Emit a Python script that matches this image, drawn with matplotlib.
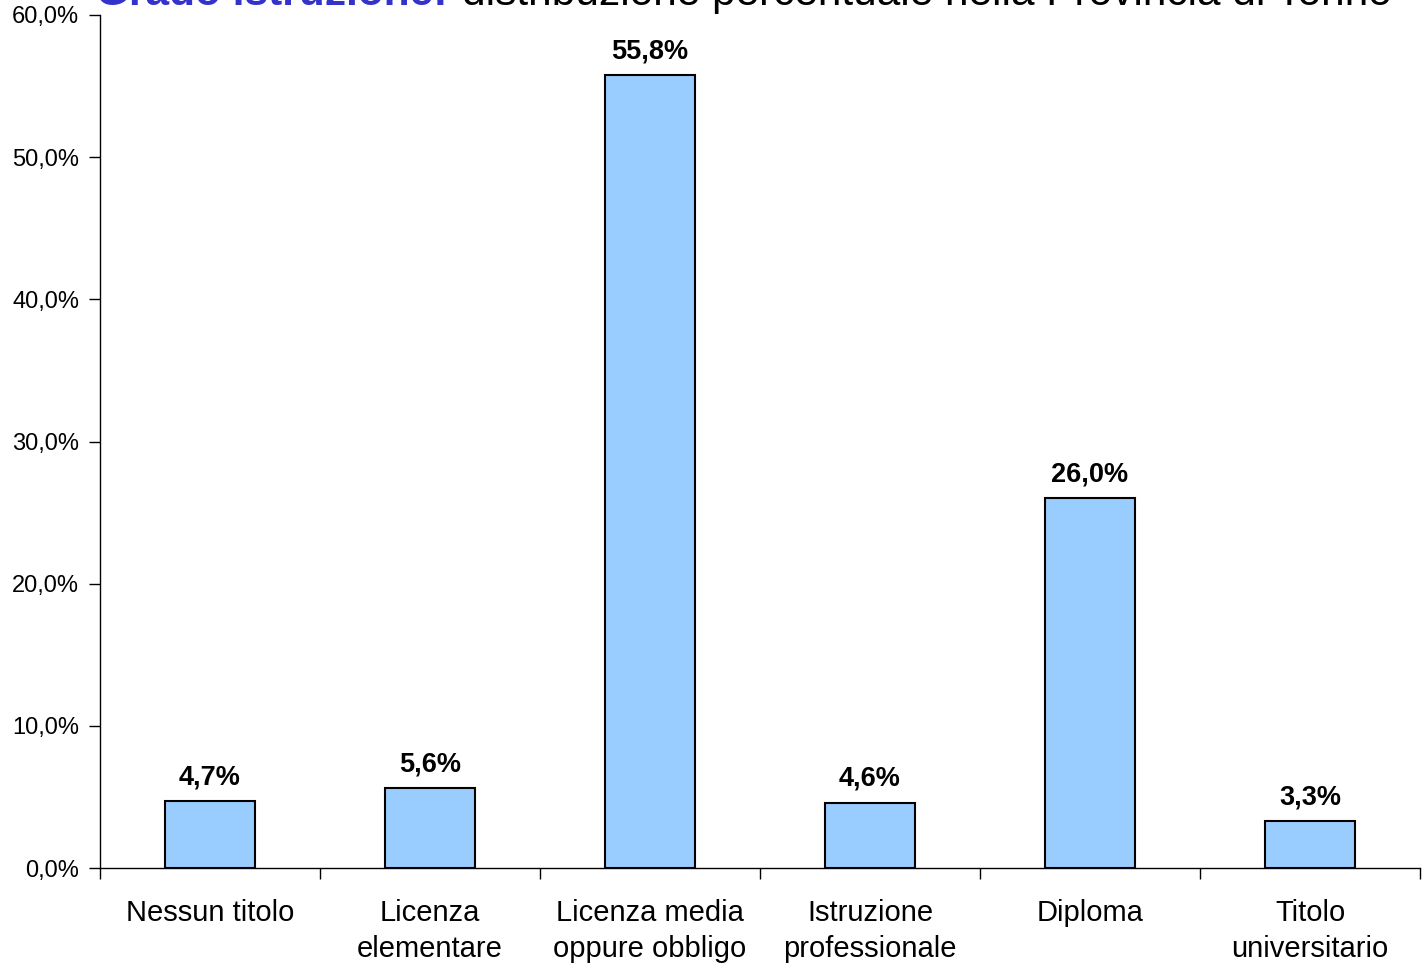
import matplotlib.pyplot as plt
from matplotlib.ticker import FuncFormatter, FixedLocator

plt.rcParams['font.family'] = ['Liberation Sans', 'DejaVu Sans']

categorie = ['Nessun titolo', 'Licenza\nelementare', 'Licenza media\noppure obbligo',
             'Istruzione\nprofessionale', 'Diploma', 'Titolo\nuniversitario']
percentuali = [4.7, 5.6, 55.8, 4.6, 26.0, 3.3]

fig = plt.figure(figsize=(14.22, 9.64), dpi=100)
ax = fig.add_axes([100 / 1422, 1 - 868 / 964, 1320 / 1422, 853 / 964])

x = list(range(len(categorie)))
ax.bar(x, percentuali, width=0.41, color='#99CCFF', edgecolor='black', linewidth=1.5)

for xi, v in zip(x, percentuali):
    ax.text(xi, v + 0.75, f'{v:.1f}%'.replace('.', ','), ha='center', va='bottom',
            fontsize=19.5, fontweight='bold')

ax.set_xlim(-0.5, len(categorie) - 0.5)
ax.set_ylim(0, 60)
ax.set_yticks(range(0, 61, 10))
ax.yaxis.set_major_formatter(FuncFormatter(lambda v, p: f'{v:.1f}%'.replace('.', ',')))
ax.tick_params(axis='y', labelsize=17, length=8, width=1, pad=7)

# categorie tra i tick: tick ai bordi, etichette al centro
ax.xaxis.set_major_locator(FixedLocator([i - 0.5 for i in range(len(categorie) + 1)]))
ax.xaxis.set_major_formatter(FuncFormatter(lambda v, p: ''))
ax.xaxis.set_minor_locator(FixedLocator(x))
ax.set_xticklabels(categorie, minor=True)
ax.tick_params(axis='x', which='major', length=8, width=1, direction='out')
ax.tick_params(axis='x', which='minor', length=0, labelsize=21, pad=22)
for lbl in ax.get_xticklabels(minor=True):
    lbl.set_linespacing(1.38)
    lbl.set_verticalalignment('top')

for s in ['top', 'right']:
    ax.spines[s].set_visible(False)
ax.spines['left'].set_linewidth(1)
ax.spines['bottom'].set_linewidth(1)

# titolo in due parti (parte iniziale in blu grassetto)
t1 = fig.text(96 / 1422, 1 - 5 / 964, 'Grado istruzione:', color='#3333CC',
              fontsize=30.5, fontweight='bold', va='baseline', ha='left')
fig.canvas.draw()
bb = t1.get_window_extent()
fig.text(bb.x1 / fig.bbox.width + 14 / 1422, 1 - 5 / 964,
         'distribuzione percentuale nella Provincia di Torino',
         color='black', fontsize=30.5, va='baseline', ha='left')

fig.savefig('out.png', dpi=100)
